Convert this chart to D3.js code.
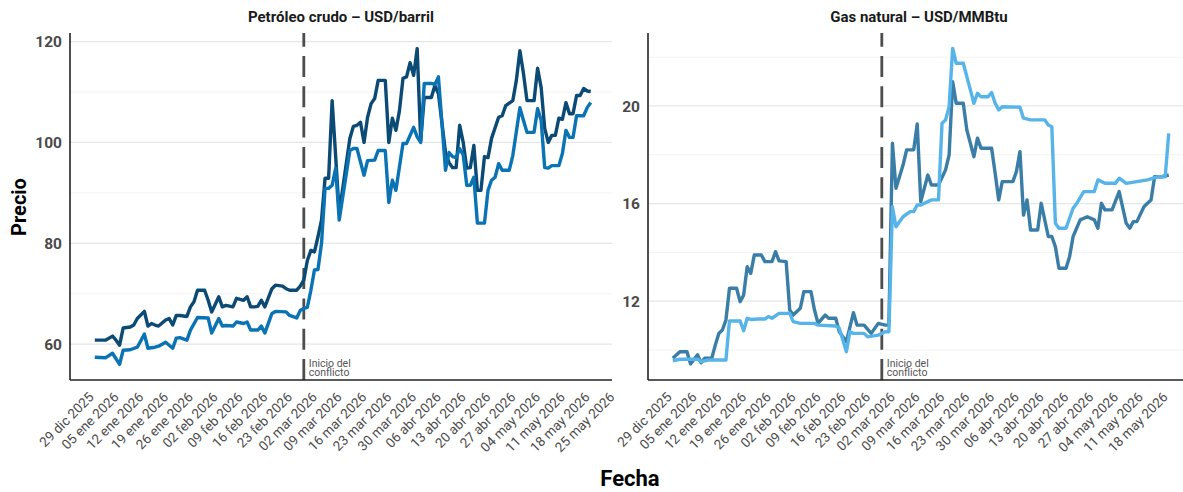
<!DOCTYPE html>
<html>
<head>
<meta charset="utf-8">
<script src="https://cdn.jsdelivr.net/npm/d3@7"></script>
<style>
  body { margin: 0; background: #ffffff; }
  svg { display: block; }
  text { font-family: Roboto, "Noto Sans", "DejaVu Sans", sans-serif; }
</style>
</head>
<body>
<svg id="chart" width="1183" height="492"></svg>
<script>
// ---------------- DATA ----------------
const titulosPaneles = ["Petróleo crudo – USD/barril", "Gas natural – USD/MMBtu"];
const tituloEjeY = "Precio";
const tituloEjeX = "Fecha";
const etiquetaConflicto = ["Inicio del", "conflicto"];
const fechaConflicto = "2026-02-28";

// Crudo: serie oscura (Brent)
const brentFechas = [
  "2025-12-31","2026-01-03","2026-01-05","2026-01-06","2026-01-07","2026-01-08","2026-01-10","2026-01-11","2026-01-12","2026-01-14",
  "2026-01-15","2026-01-16","2026-01-17","2026-01-18","2026-01-20","2026-01-21","2026-01-22","2026-01-23","2026-01-24","2026-01-26",
  "2026-01-27","2026-01-28","2026-01-29","2026-01-31","2026-02-01","2026-02-02","2026-02-04","2026-02-05","2026-02-06","2026-02-08",
  "2026-02-09","2026-02-11","2026-02-12","2026-02-13","2026-02-14","2026-02-15","2026-02-16","2026-02-17","2026-02-19","2026-02-20",
  "2026-02-22","2026-02-23","2026-02-24","2026-02-26","2026-02-27","2026-02-28","2026-03-01","2026-03-02","2026-03-03","2026-03-04",
  "2026-03-05","2026-03-06","2026-03-07","2026-03-08","2026-03-10","2026-03-13","2026-03-14","2026-03-15","2026-03-16","2026-03-17",
  "2026-03-18","2026-03-19","2026-03-20","2026-03-21","2026-03-23","2026-03-24","2026-03-25","2026-03-26","2026-03-27","2026-03-28",
  "2026-03-29","2026-03-30","2026-03-31","2026-04-01","2026-04-02","2026-04-03","2026-04-05","2026-04-06","2026-04-07","2026-04-09",
  "2026-04-10","2026-04-11","2026-04-12","2026-04-13","2026-04-14","2026-04-15","2026-04-16","2026-04-17","2026-04-18","2026-04-19",
  "2026-04-20","2026-04-21","2026-04-22","2026-04-24","2026-04-25","2026-04-26","2026-04-28","2026-04-29","2026-04-30","2026-05-01",
  "2026-05-02","2026-05-04","2026-05-05","2026-05-06","2026-05-07","2026-05-08","2026-05-09","2026-05-10","2026-05-11","2026-05-12",
  "2026-05-13","2026-05-14","2026-05-15","2026-05-16","2026-05-17","2026-05-18","2026-05-19","2026-05-20"
];
const brentValores = [
  60.8,60.8,61.6,60.8,59.8,63.2,63.4,63.8,65.1,66.5,
  63.6,64.1,63.8,63.6,64.8,65.1,63.8,65.7,65.7,65.5,
  67.4,68.4,70.7,70.7,68.7,66.4,69.4,67.4,67.7,67.4,
  69.1,68.7,69.4,67.4,67.4,67.5,68.7,67.4,71.0,71.7,
  71.5,71.0,70.7,70.7,71.5,72.7,76.6,78.6,78.3,81.3,
  84.6,92.9,92.9,108.3,86.0,100.8,103.2,103.4,104.0,100.0,
  105.0,107.7,108.7,112.3,112.3,100.0,104.8,102.4,106.3,112.7,
  113.0,115.8,113.3,118.6,100.4,108.9,108.9,111.3,109.7,98.0,
  96.0,95.0,95.0,103.4,100.0,94.9,95.0,99.4,90.5,90.5,
  97.2,97.0,100.8,105.0,105.3,107.3,108.3,112.3,118.2,113.7,
  108.3,108.3,114.7,110.9,102.8,100.0,101.4,101.4,104.8,104.6,
  107.9,105.7,105.7,109.3,109.3,110.7,110.2,110.1
];

// Crudo: serie azul (WTI)
const wtiFechas = [
  "2025-12-31","2026-01-03","2026-01-05","2026-01-07","2026-01-08","2026-01-10","2026-01-12","2026-01-14","2026-01-15","2026-01-17",
  "2026-01-18","2026-01-20","2026-01-22","2026-01-23","2026-01-24","2026-01-26","2026-01-27","2026-01-29","2026-02-01","2026-02-02",
  "2026-02-04","2026-02-05","2026-02-06","2026-02-08","2026-02-09","2026-02-11","2026-02-12","2026-02-13","2026-02-15","2026-02-16",
  "2026-02-17","2026-02-19","2026-02-20","2026-02-23","2026-02-24","2026-02-26","2026-02-27","2026-02-28","2026-03-01","2026-03-02",
  "2026-03-03","2026-03-04","2026-03-05","2026-03-06","2026-03-07","2026-03-08","2026-03-09","2026-03-10","2026-03-13","2026-03-14",
  "2026-03-15","2026-03-17","2026-03-18","2026-03-20","2026-03-21","2026-03-23","2026-03-24","2026-03-25","2026-03-26","2026-03-28",
  "2026-03-29","2026-03-31","2026-04-01","2026-04-02","2026-04-03","2026-04-05","2026-04-06","2026-04-07","2026-04-09","2026-04-10",
  "2026-04-11","2026-04-12","2026-04-13","2026-04-14","2026-04-15","2026-04-16","2026-04-17","2026-04-18","2026-04-19","2026-04-20",
  "2026-04-21","2026-04-22","2026-04-23","2026-04-24","2026-04-25","2026-04-27","2026-04-28","2026-04-30","2026-05-01","2026-05-02",
  "2026-05-04","2026-05-05","2026-05-06","2026-05-07","2026-05-08","2026-05-09","2026-05-11","2026-05-12","2026-05-13","2026-05-14",
  "2026-05-15","2026-05-16","2026-05-18","2026-05-19","2026-05-20"
];
const wtiValores = [
  57.4,57.3,58.2,56.0,58.8,58.9,59.4,62.0,59.2,59.4,
  59.6,60.4,59.2,61.2,61.3,60.8,62.8,65.3,65.2,62.2,
  65.1,63.6,63.7,63.6,64.4,64.1,64.4,62.8,62.8,63.6,
  62.2,66.1,66.5,66.4,65.7,65.2,66.7,67.1,67.3,70.7,
  74.7,74.8,80.0,90.9,90.9,91.5,94.9,84.6,98.4,98.8,
  98.8,93.5,96.4,96.5,98.4,98.4,88.1,92.5,90.5,99.8,
  99.8,103.0,101.1,100.0,111.7,111.7,111.5,113.0,94.5,98.0,
  97.2,97.0,98.8,97.5,91.5,91.5,93.1,84.0,84.0,84.0,
  90.5,92.5,93.1,95.8,94.5,94.5,97.4,106.9,104.4,102.0,
  102.0,106.7,104.4,95.0,94.9,95.4,95.4,97.8,102.4,101.0,
  101.0,105.3,105.3,106.9,107.9
];

// Gas: serie azul acero
const gasAFechas = [
  "2025-12-31","2026-01-02","2026-01-04","2026-01-05","2026-01-07","2026-01-08","2026-01-09","2026-01-11","2026-01-12","2026-01-13",
  "2026-01-14","2026-01-15","2026-01-16","2026-01-18","2026-01-19","2026-01-20","2026-01-21","2026-01-22","2026-01-23","2026-01-25",
  "2026-01-26","2026-01-28","2026-01-29","2026-01-30","2026-02-01","2026-02-02","2026-02-03","2026-02-05","2026-02-06","2026-02-08",
  "2026-02-09","2026-02-10","2026-02-12","2026-02-13","2026-02-15","2026-02-16","2026-02-18","2026-02-20","2026-02-21","2026-02-23",
  "2026-02-25","2026-02-27","2026-03-01","2026-03-02","2026-03-03","2026-03-04","2026-03-06","2026-03-07","2026-03-09","2026-03-10",
  "2026-03-11","2026-03-13","2026-03-14","2026-03-16","2026-03-18","2026-03-19","2026-03-20","2026-03-21","2026-03-23","2026-03-24",
  "2026-03-26","2026-03-27","2026-03-28","2026-03-31","2026-04-01","2026-04-02","2026-04-03","2026-04-06","2026-04-07","2026-04-08",
  "2026-04-09","2026-04-10","2026-04-11","2026-04-13","2026-04-14","2026-04-16","2026-04-17","2026-04-18","2026-04-19","2026-04-21",
  "2026-04-22","2026-04-23","2026-04-25","2026-04-27","2026-04-29","2026-04-30","2026-05-01","2026-05-02","2026-05-04","2026-05-06",
  "2026-05-08","2026-05-09","2026-05-10","2026-05-11","2026-05-13","2026-05-14","2026-05-15","2026-05-16","2026-05-18","2026-05-20"
];
const gasAValores = [
  9.66,9.93,9.93,9.43,9.80,9.48,9.66,9.66,10.2,10.68,
  10.82,11.23,12.53,12.53,11.98,12.25,13.41,13.14,13.89,13.89,
  13.62,13.62,14.03,13.65,13.62,11.64,11.43,11.71,12.39,12.39,
  11.64,11.09,11.43,11.30,11.30,10.75,10.34,11.53,11.02,11.02,
  10.68,11.09,11.02,11.02,18.47,16.63,17.58,18.2,18.2,19.26,
  16.08,17.17,16.76,16.76,17.38,17.99,20.99,20.11,20.11,19.02,
  17.92,18.68,18.27,18.27,17.24,16.15,16.9,16.9,17.31,18.13,
  15.53,16.15,14.92,14.92,16.01,14.65,14.65,14.23,13.35,13.35,
  13.82,14.65,15.33,15.46,15.33,14.99,16.01,15.74,15.74,16.49,
  15.19,14.99,15.26,15.26,15.87,16.01,16.15,17.1,17.1,17.17
];

// Gas: serie celeste
const gasBFechas = [
  "2025-12-31","2026-01-02","2026-01-07","2026-01-08","2026-01-10","2026-01-15","2026-01-16","2026-01-19","2026-01-20","2026-01-21",
  "2026-01-22","2026-01-24","2026-01-26","2026-01-27","2026-01-28","2026-01-30","2026-02-02","2026-02-03","2026-02-05","2026-02-09",
  "2026-02-10","2026-02-15","2026-02-16","2026-02-18","2026-02-19","2026-02-20","2026-02-23","2026-02-24","2026-02-27","2026-03-01",
  "2026-03-02","2026-03-03","2026-03-04","2026-03-06","2026-03-08","2026-03-09","2026-03-10","2026-03-11","2026-03-13","2026-03-14",
  "2026-03-16","2026-03-17","2026-03-18","2026-03-19","2026-03-20","2026-03-21","2026-03-23","2026-03-24","2026-03-25","2026-03-26",
  "2026-03-27","2026-03-28","2026-03-30","2026-03-31","2026-04-01","2026-04-02","2026-04-03","2026-04-08","2026-04-09","2026-04-11",
  "2026-04-15","2026-04-16","2026-04-17","2026-04-18","2026-04-19","2026-04-21","2026-04-22","2026-04-23","2026-04-24","2026-04-26",
  "2026-04-29","2026-04-30","2026-05-02","2026-05-05","2026-05-06","2026-05-08","2026-05-11","2026-05-14","2026-05-17","2026-05-19",
  "2026-05-20"
];
const gasBValores = [
  9.56,9.62,9.62,9.52,9.59,9.59,11.19,11.19,10.79,11.3,
  11.25,11.27,11.27,11.37,11.3,11.5,11.5,11.16,11.09,11.09,
  11.02,10.98,10.89,9.93,10.75,10.68,10.68,10.54,10.61,10.75,
  10.75,15.87,15.05,15.46,15.67,15.67,15.94,15.94,16.08,16.15,
  16.15,19.29,19.43,19.97,22.36,21.75,21.75,21.2,20.66,20.11,
  20.52,20.38,20.38,20.55,20.11,19.84,19.97,19.95,19.5,19.43,
  19.43,19.22,19.15,15.19,14.99,14.99,15.4,15.81,16.0,16.49,
  16.49,16.97,16.83,16.83,17.04,16.83,16.9,16.97,17.1,17.1,
  18.88
];

// Ejes
const ticksXCrudo = ["2025-12-29","2026-01-05","2026-01-12","2026-01-19","2026-01-26","2026-02-02","2026-02-09","2026-02-16",
  "2026-02-23","2026-03-02","2026-03-09","2026-03-16","2026-03-23","2026-03-30","2026-04-06","2026-04-13","2026-04-20",
  "2026-04-27","2026-05-04","2026-05-11","2026-05-18","2026-05-25"];
const ticksXGas = ticksXCrudo.slice(0, 21);
const ticksYCrudo = [60, 80, 100, 120];
const ticksYGas = [12, 16, 20];
const dominioX = ["2025-12-24", "2026-05-26"];
const dominioYCrudo = [52.9, 121.7];
const dominioYGas = [8.77, 22.99];

// ---------------- DRAWING ----------------
const parse = d3.timeParse("%Y-%m-%d");
const es = d3.timeFormatLocale({
  dateTime: "%A, %e de %B de %Y, %X", date: "%d/%m/%Y", time: "%H:%M:%S",
  periods: ["AM", "PM"],
  days: ["domingo","lunes","martes","miércoles","jueves","viernes","sábado"],
  shortDays: ["dom","lun","mar","mié","jue","vie","sáb"],
  months: ["enero","febrero","marzo","abril","mayo","junio","julio","agosto","septiembre","octubre","noviembre","diciembre"],
  shortMonths: ["ene","feb","mar","abr","may","jun","jul","ago","sept","oct","nov","dic"]
});
const fmt = es.format("%d %b %Y");

const svg = d3.select("#chart");
const yTop = 33, yBottom = 380;

const paneles = [
  { x0: 70, x1: 612, title: titulosPaneles[0], yDom: dominioYCrudo, yTicks: ticksYCrudo, xTicks: ticksXCrudo,
    series: [
      { f: brentFechas, v: brentValores, color: "#0b4a75" },
      { f: wtiFechas, v: wtiValores, color: "#0a73b3" }
    ] },
  { x0: 648, x1: 1190, title: titulosPaneles[1], yDom: dominioYGas, yTicks: ticksYGas, xTicks: ticksXGas,
    series: [
      { f: gasAFechas, v: gasAValores, color: "#3a7da7" },
      { f: gasBFechas, v: gasBValores, color: "#56b4e9" }
    ] }
];

paneles.forEach(p => {
  const x = d3.scaleTime().domain(dominioX.map(parse)).range([p.x0, p.x1]);
  const y = d3.scaleLinear().domain(p.yDom).range([yBottom, yTop]);
  const g = svg.append("g");

  // minor grid
  const step = p.yTicks[1] - p.yTicks[0];
  const minors = d3.range(p.yTicks[0] - step / 2, p.yDom[1], step).filter(v => v >= p.yDom[0] && v <= p.yDom[1]);
  g.selectAll(".minor").data(minors).join("line")
    .attr("x1", p.x0).attr("x2", p.x1)
    .attr("y1", d => y(d)).attr("y2", d => y(d))
    .attr("stroke", "#f0f0f0").attr("stroke-width", 0.9);
  g.selectAll(".major").data(p.yTicks).join("line")
    .attr("x1", p.x0).attr("x2", p.x1)
    .attr("y1", d => y(d)).attr("y2", d => y(d))
    .attr("stroke", "#e6e6e6").attr("stroke-width", 1.2);

  // y tick labels
  g.selectAll(".ytl").data(p.yTicks).join("text")
    .attr("x", p.x0 - 8).attr("y", d => y(d)).attr("dy", "0.36em")
    .attr("text-anchor", "end").attr("font-size", 15.5).attr("font-weight", 700)
    .attr("fill", "#4a4a4a").text(d => d);

  // x tick labels
  g.selectAll(".xtl").data(p.xTicks.map(parse)).join("text")
    .attr("transform", d => `translate(${x(d) + 7},${yBottom + 18}) rotate(-45)`)
    .attr("text-anchor", "end").attr("font-size", 13.5)
    .attr("fill", "#4d4d4d").text(d => fmt(d));

  // conflict line
  const xc = x(parse(fechaConflicto));
  g.append("line")
    .attr("x1", xc).attr("x2", xc).attr("y1", yBottom).attr("y2", yTop)
    .attr("stroke", "#4d4d4d").attr("stroke-width", 2.8)
    .attr("stroke-dasharray", "21,9.3");
  const lab = g.append("text").attr("font-size", 10.5).attr("fill", "#555");
  lab.append("tspan").attr("x", xc + 5).attr("y", 366.5).text(etiquetaConflicto[0]);
  lab.append("tspan").attr("x", xc + 5).attr("y", 375.5).text(etiquetaConflicto[1]);

  // series lines
  const line = d3.line().x(d => x(d[0])).y(d => y(d[1]));
  p.series.forEach(s => {
    const pts = s.f.map((f, i) => [parse(f), s.v[i]]);
    g.append("path").datum(pts)
      .attr("d", line).attr("fill", "none")
      .attr("stroke", s.color).attr("stroke-width", 3.4)
      .attr("stroke-linejoin", "round").attr("stroke-linecap", "butt");
  });

  // axis lines
  g.append("line").attr("x1", p.x0).attr("x2", p.x0).attr("y1", yTop).attr("y2", yBottom)
    .attr("stroke", "#222").attr("stroke-width", 1.6);
  g.append("line").attr("x1", p.x0).attr("x2", p.x1).attr("y1", yBottom).attr("y2", yBottom)
    .attr("stroke", "#222").attr("stroke-width", 1.6);

  // panel title
  g.append("text").attr("x", (p.x0 + p.x1) / 2).attr("y", 22)
    .attr("text-anchor", "middle").attr("font-size", 15).attr("font-weight", 700)
    .attr("fill", "#1a1a1a").text(p.title);
});

// axis titles
svg.append("text").attr("transform", "translate(26,207) rotate(-90)")
  .attr("text-anchor", "middle").attr("font-size", 20).attr("font-weight", 700)
  .attr("fill", "#000").text(tituloEjeY);
svg.append("text").attr("x", 630).attr("y", 486)
  .attr("text-anchor", "middle").attr("font-size", 22).attr("font-weight", 700)
  .attr("fill", "#000").text(tituloEjeX);
</script>
</body>
</html>
